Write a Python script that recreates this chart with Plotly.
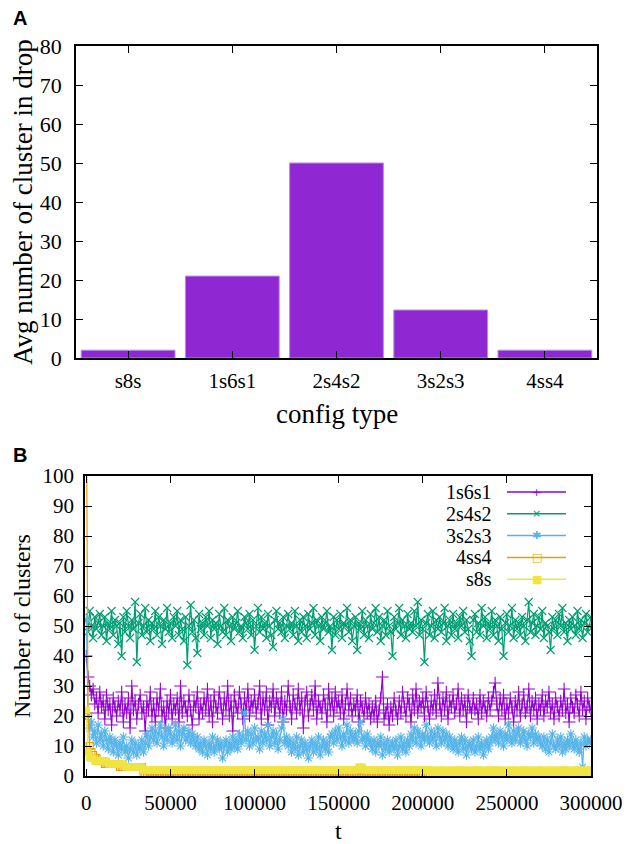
import plotly.graph_objects as go

W, H = 628, 844

# ---------------- Panel A data ----------------
config_types = ["s8s", "1s6s1", "2s4s2", "3s2s3", "4ss4"]
avg_clusters = [2.0, 21.0, 50.0, 12.3, 2.0]

# ---------------- Panel B data ----------------
T_STEP = 1000
t = list(range(0, 300001, T_STEP))          # sampling times 0 .. 300000

n_1s6s1 = [
    40, 33, 30, 27, 29, 24, 26, 21, 28, 23,
    25, 19, 27, 22, 24, 17, 26, 23, 20, 25,
    22, 28, 18, 24, 21, 26, 16, 30, 22, 25,
    19, 24, 27, 21, 23, 15, 25, 22, 28, 20,
    24, 18, 26, 22, 29, 20, 23, 16, 25, 21,
    27, 19, 24, 22, 26, 18, 30, 21, 25, 23,
    20, 27, 22, 17, 25, 23, 28, 19, 24, 21,
    26, 22, 29, 20, 25, 18, 27, 23, 21, 28,
    24, 19, 26, 22, 30, 20, 25, 15, 27, 23,
    21, 28, 24, 19, 26, 22, 29, 20, 25, 23,
    27, 21, 24, 30, 19, 26, 22, 28, 17, 25,
    23, 29, 20, 26, 24, 21, 28, 18, 25, 22,
    30, 23, 19, 27, 24, 21, 29, 22, 26, 16,
    25, 28, 20, 24, 27, 22, 30, 19, 25, 23,
    21, 27, 24, 18, 29, 22, 26, 20, 28, 23,
    25, 21, 27, 19, 24, 29, 22, 26, 20, 24,
    22, 27, 18, 25, 23, 20, 26, 21, 24, 19,
    23, 20, 25, 18, 22, 26, 33, 19, 21, 24,
    17, 23, 20, 26, 22, 19, 25, 21, 28, 23,
    20, 26, 24, 18, 27, 22, 29, 21, 25, 23,
    26, 20, 28, 23, 19, 25, 22, 27, 21, 31,
    24, 20, 26, 22, 28, 19, 25, 23, 27, 21,
    24, 29, 20, 26, 22, 25, 18, 27, 23, 21,
    26, 22, 24, 19, 27, 21, 25, 23, 20, 26,
    22, 25, 28, 31, 24, 20, 26, 22, 27, 19,
    24, 21, 26, 23, 18, 25, 22, 28, 20, 24,
    27, 21, 23, 29, 20, 25, 22, 26, 19, 24,
    22, 27, 20, 25, 23, 28, 21, 24, 19, 26,
    23, 20, 25, 22, 29, 21, 24, 18, 26, 23,
    21, 27, 24, 20, 28, 22, 25, 19, 26, 23,
    22,
]

n_2s4s2 = [
    52, 48, 55, 50, 46, 53, 49, 51, 54, 47,
    50, 53, 45, 51, 49, 55, 47, 52, 50, 44,
    51, 40, 53, 48, 55, 50, 46, 52, 49, 58,
    38, 51, 54, 47, 50, 56, 48, 52, 45, 51,
    49, 55, 47, 53, 50, 44, 52, 49, 56, 48,
    51, 46, 53, 50, 55, 47, 52, 49, 45, 53,
    37, 50, 57, 48, 52, 46, 41, 54, 49, 51,
    47, 53, 50, 55, 46, 52, 49, 51, 44, 54,
    50, 48, 56, 47, 52, 50, 45, 53, 49, 51,
    55, 48, 50, 46, 53, 51, 49, 54, 47, 52,
    42, 50, 56, 48, 53, 49, 51, 46, 54, 50,
    47, 43, 52, 55, 49, 51, 48, 53, 46, 50,
    54, 49, 51, 47, 55, 50, 45, 52, 48, 53,
    50, 46, 54, 49, 51, 56, 47, 52, 50, 45,
    53, 49, 51, 55, 48, 50, 42, 53, 47, 52,
    49, 54, 46, 51, 50, 56, 48, 52, 45, 50,
    53, 42, 51, 49, 55, 47, 52, 50, 46, 54,
    49, 51, 56, 48, 53, 45, 50, 52, 47, 55,
    50, 48, 40, 53, 49, 51, 56, 47, 52, 50,
    46, 54, 49, 51, 48, 55, 50, 58, 47, 52,
    49, 38, 51, 54, 47, 50, 55, 46, 52, 49,
    53, 48, 51, 56, 45, 50, 52, 47, 54, 49,
    51, 46, 53, 50, 55, 48, 52, 49, 45, 40,
    52, 54, 48, 51, 47, 56, 50, 53, 46, 51,
    49, 55, 47, 52, 50, 45, 53, 49, 40, 51,
    54, 48, 50, 56, 46, 52, 49, 51, 47, 53,
    50, 45, 52, 58, 48, 51, 54, 47, 50, 53,
    49, 55, 46, 51, 50, 48, 42, 53, 49, 52,
    47, 54, 50, 56, 48, 51, 45, 52, 49, 53,
    50, 47, 55, 49, 52, 46, 51, 54, 48, 50,
    53,
]

n_3s2s3 = [
    52, 20, 16, 18, 13, 15, 11, 17, 12, 14,
    10, 15, 12, 9, 13, 11, 8, 12, 10, 7,
    11, 9, 13, 8, 10, 6, 9, 12, 8, 11,
    7, 10, 9, 12, 8, 11, 14, 10, 13, 16,
    12, 15, 11, 14, 17, 13, 10, 15, 12, 16,
    14, 11, 13, 17, 12, 15, 10, 14, 16, 12,
    13, 15, 11, 14, 12, 10, 13, 9, 11, 8,
    12, 10, 7, 11, 9, 13, 8, 10, 12, 9,
    11, 6, 10, 12, 8, 11, 9, 13, 10, 12,
    9, 14, 11, 13, 21, 12, 15, 10, 14, 11,
    16, 12, 13, 9, 15, 11, 14, 12, 17, 10,
    13, 15, 11, 14, 9, 12, 16, 19, 11, 13,
    10, 12, 8, 11, 9, 13, 7, 10, 12, 8,
    11, 9, 6, 10, 12, 8, 11, 9, 13, 7,
    10, 12, 9, 11, 8, 13, 14, 11, 15, 12,
    16, 13, 10, 14, 12, 17, 11, 15, 13, 12,
    14, 11, 15, 18, 12, 13, 10, 14, 12, 11,
    9, 12, 8, 11, 10, 13, 7, 11, 9, 12,
    8, 10, 11, 9, 12, 7, 10, 13, 9, 11,
    8, 12, 10, 14, 12, 16, 11, 15, 13, 10,
    14, 12, 17, 13, 11, 15, 12, 14, 10, 16,
    13, 11, 15, 12, 14, 10, 13, 11, 9, 12,
    10, 8, 11, 13, 9, 12, 7, 10, 11, 9,
    12, 8, 10, 13, 9, 11, 7, 10, 12, 9,
    11, 13, 16, 12, 14, 11, 15, 13, 10, 14,
    12, 17, 13, 11, 15, 12, 14, 16, 11, 13,
    15, 12, 10, 14, 13, 16, 11, 14, 12, 13,
    11, 10, 13, 9, 12, 8, 11, 14, 10, 9,
    12, 10, 13, 8, 11, 9, 12, 10, 14, 11,
    9, 12, 10, 8, 11, 3, 13, 10, 12, 11,
    12,
]

# 4ss4 run stops at t = 200000
n_4ss4 = ([128, 20, 10, 8, 7, 6, 6, 5, 5, 5, 5, 4, 4, 4, 4, 4, 4, 4, 4, 4,
           3, 3, 3, 3, 3, 3, 3, 3, 3, 3, 3, 3, 3, 3]
          + [1] * 167)

n_s8s = (
    [22, 8, 6, 6, 6, 5, 5, 5, 5, 5, 5, 5, 5, 4, 4, 4, 4, 4, 4, 4,
     4, 4, 4, 3, 3, 3, 3, 3, 3, 3, 3, 3, 3, 3]
    + [2] * 128 + [3, 3, 3] + [2] * 40
    + [1, 2, 1, 1, 2, 1, 2, 2, 1, 2,
       1, 1, 2, 1, 2, 1, 2, 2, 1, 2,
       1, 2, 1, 1, 2, 1, 2, 2, 1, 2,
       1, 2, 1, 1, 2, 2, 1, 2, 1, 2,
       2, 1, 2, 1, 1, 2, 1, 2, 2, 1,
       2, 1, 1, 2, 1, 2, 2, 1, 2, 1,
       2, 1, 1, 2, 1, 2, 2, 1, 0, 2,
       1, 2, 1, 2, 1, 1, 2, 1, 2, 2,
       1, 2, 1, 1, 2, 1, 2, 2, 1, 2,
       1, 2, 1, 2, 2, 1]
)

series_names = ["1s6s1", "2s4s2", "3s2s3", "4ss4", "s8s"]
series_values = [n_1s6s1, n_2s4s2, n_3s2s3, n_4ss4, n_s8s]
series_colors = ["#9400d3", "#009e73", "#56b4e9", "#e69f00", "#f0e442"]
series_symbols = ["cross-thin", "x-thin", "asterisk", "square-open", "square"]
series_msize = [9, 8, 8, 7, 6]
legend_glyphs = ["+", "×", "✱", "□", "■"]

SERIF = "Liberation Serif"

fig = go.Figure()

# ---- Panel A: bars ----
fig.add_trace(go.Bar(
    x=config_types, y=avg_clusters, width=0.9,
    marker=dict(color="#8f28d3", line=dict(color="#b98ae6", width=1)),
    xaxis="x", yaxis="y", showlegend=False,
))

# ---- Panel B: time series ----
for name, vals, col, sym, ms in zip(series_names, series_values, series_colors,
                                    series_symbols, series_msize):
    fig.add_trace(go.Scatter(
        x=t[:len(vals)], y=vals, name=name, mode="lines+markers",
        line=dict(color=col, width=1.2),
        marker=dict(symbol=sym, size=ms, color=col, line=dict(color=col, width=1.1)),
        xaxis="x2", yaxis="y2", showlegend=False, cliponaxis=True,
    ))

def px_x(p):
    return p / W

def px_y(p):
    return 1 - p / H

# plot-area pixel boxes
A_L, A_R, A_T, A_B = 76, 597, 46, 358
B_L, B_R, B_T, B_B = 85, 591, 476, 776

axis_common = dict(
    showline=True, linecolor="black", linewidth=1.5, mirror="ticks",
    ticks="inside", ticklen=7, tickcolor="black", tickwidth=1,
    showgrid=False, zeroline=False, automargin=False,
)

fig.update_layout(
    width=W, height=H,
    margin=dict(l=0, r=0, t=0, b=0),
    paper_bgcolor="white", plot_bgcolor="white",
    bargap=0.1,
    xaxis=dict(domain=[px_x(A_L), px_x(A_R)], anchor="y", range=[-0.5, 4.5],
               tickfont=dict(family=SERIF, size=21, color="black"),
               ticklabelstandoff=3, **axis_common),
    yaxis=dict(domain=[px_y(A_B), px_y(A_T)], anchor="x", range=[0, 80],
               tickvals=list(range(0, 81, 10)),
               tickfont=dict(family=SERIF, size=22, color="black"),
               ticklabelstandoff=8, **axis_common),
    xaxis2=dict(domain=[px_x(B_L), px_x(B_R)], anchor="y2", range=[-800, 300000],
                tickvals=list(range(0, 300001, 50000)), tickformat="d",
                tickfont=dict(family=SERIF, size=21, color="black"),
                ticklabelstandoff=7, **axis_common),
    yaxis2=dict(domain=[px_y(B_B), px_y(B_T)], anchor="x2", range=[0, 100],
                tickvals=list(range(0, 101, 10)),
                tickfont=dict(family=SERIF, size=21, color="black"),
                ticklabelstandoff=5, **axis_common),
)

annotations = [
    dict(text="<b>A</b>", x=px_x(11), y=px_y(18), xanchor="left", yanchor="middle",
         font=dict(family="Liberation Sans", size=20, color="black")),
    dict(text="<b>B</b>", x=px_x(11), y=px_y(455), xanchor="left", yanchor="middle",
         font=dict(family="Liberation Sans", size=20, color="black")),
    dict(text="Avg number of cluster in drop", x=px_x(23), y=px_y((A_T + A_B) / 2),
         textangle=-90, xanchor="center", yanchor="middle",
         font=dict(family=SERIF, size=27, color="black")),
    dict(text="config type", x=px_x((A_L + A_R) / 2), y=px_y(414),
         xanchor="center", yanchor="middle",
         font=dict(family=SERIF, size=27, color="black")),
    dict(text="Number of clusters", x=px_x(22), y=px_y((B_T + B_B) / 2),
         textangle=-90, xanchor="center", yanchor="middle",
         font=dict(family=SERIF, size=24, color="black")),
    dict(text="t", x=px_x((B_L + B_R) / 2), y=px_y(831),
         xanchor="center", yanchor="middle",
         font=dict(family=SERIF, size=24, color="black")),
]

# gnuplot-style key: text right-aligned, sample to the right
shapes = []
KEY_TOP, KEY_STEP = 492, 21.8
KEY_TEXT_R, KEY_L0, KEY_L1 = 494, 507, 566
for i, (name, col, glyph) in enumerate(zip(series_names, series_colors, legend_glyphs)):
    yy = KEY_TOP + i * KEY_STEP
    annotations.append(dict(text=name, x=px_x(KEY_TEXT_R), y=px_y(yy),
                            xanchor="right", yanchor="middle",
                            font=dict(family=SERIF, size=20, color="black")))
    shapes.append(dict(type="line", xref="paper", yref="paper",
                       x0=px_x(KEY_L0), x1=px_x(KEY_L1), y0=px_y(yy), y1=px_y(yy),
                       line=dict(color=col, width=1.5)))
    annotations.append(dict(text=glyph, x=px_x((KEY_L0 + KEY_L1) / 2), y=px_y(yy),
                            xanchor="center", yanchor="middle",
                            font=dict(family="DejaVu Sans", size=11, color=col)))

for a in annotations:
    a.update(xref="paper", yref="paper", showarrow=False)

fig.update_layout(annotations=annotations, shapes=shapes)

fig.write_html("out.html", config={"displayModeBar": False},
               post_script="document.body.style.margin='0';")
